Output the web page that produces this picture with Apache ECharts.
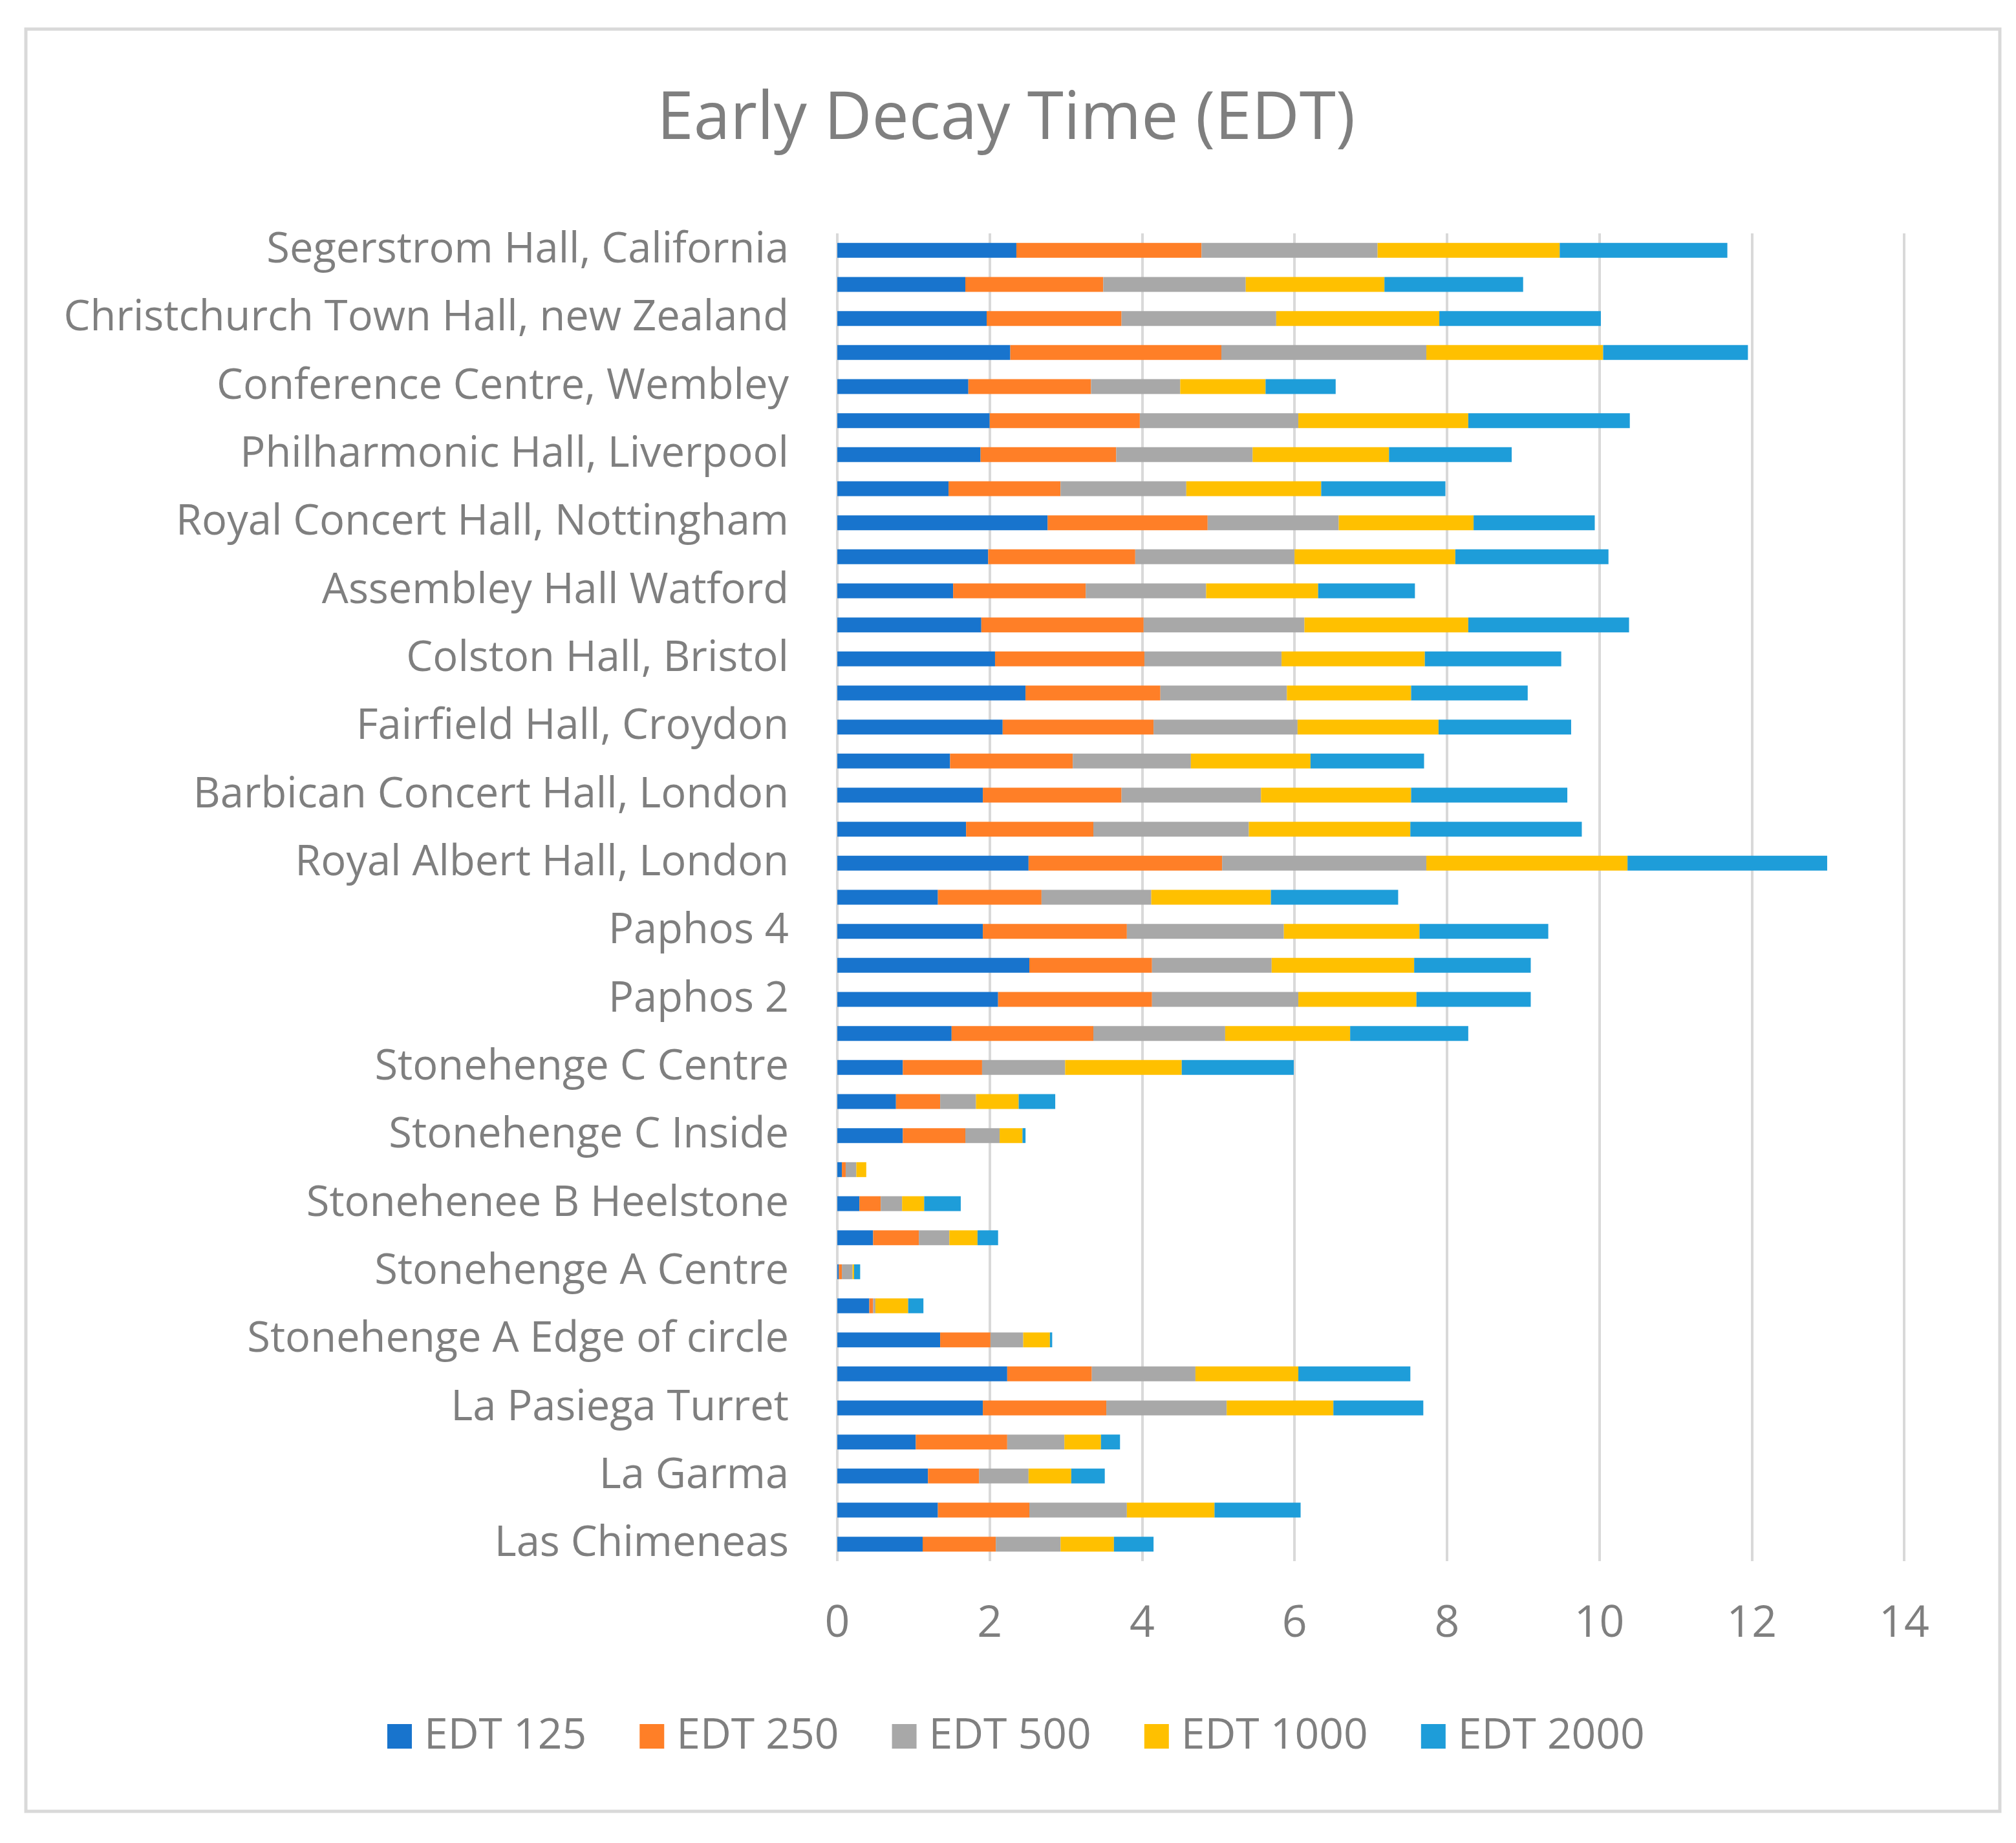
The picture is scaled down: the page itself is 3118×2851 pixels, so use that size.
<!DOCTYPE html>
<html>
<head>
<meta charset="utf-8">
<script src="https://cdn.jsdelivr.net/npm/echarts@6/dist/echarts.min.js"></script>
<style>
html,body{margin:0;padding:0;background:#fff;}
#chart{width:3118px;height:2851px;}
</style>
</head>
<body>
<div id="chart"></div>
<script>
// Categories, top to bottom (unlabelled rows are hidden by the axis label interval)
var categories = [
  "Segerstrom Hall, California", "",
  "Christchurch Town Hall, new Zealand", "",
  "Conference Centre, Wembley", "",
  "Philharmonic Hall, Liverpool", "",
  "Royal Concert Hall, Nottingham", "",
  "Assembley Hall Watford", "",
  "Colston Hall, Bristol", "",
  "Fairfield Hall, Croydon", "",
  "Barbican Concert Hall, London", "",
  "Royal Albert Hall, London", "",
  "Paphos 4", "",
  "Paphos 2", "",
  "Stonehenge C Centre", "",
  "Stonehenge C Inside", "",
  "Stonehenee B Heelstone", "",
  "Stonehenge A Centre", "",
  "Stonehenge A Edge of circle", "",
  "La Pasiega Turret", "",
  "La Garma", "",
  "Las Chimeneas"
];
var seriesNames = ["EDT 125", "EDT 250", "EDT 500", "EDT 1000", "EDT 2000"];
var edt125  = [2.35,1.68,1.96,2.27,1.72,2.00,1.88,1.46,2.76,1.98,1.52,1.89,2.07,2.47,2.17,1.48,1.91,1.69,2.51,1.32,1.91,2.52,2.11,1.50,0.86,0.77,0.86,0.06,0.29,0.47,0.02,0.42,1.35,2.23,1.91,1.03,1.19,1.32,1.12];
var edt250  = [2.43,1.81,1.77,2.77,1.61,1.97,1.78,1.47,2.10,1.93,1.74,2.13,1.96,1.77,1.98,1.61,1.82,1.67,2.54,1.36,1.89,1.61,2.02,1.86,1.04,0.58,0.82,0.05,0.28,0.60,0.04,0.05,0.66,1.11,1.62,1.20,0.67,1.20,0.96];
var edt500  = [2.31,1.87,2.03,2.69,1.17,2.08,1.79,1.65,1.72,2.09,1.58,2.11,1.80,1.66,1.89,1.55,1.83,2.04,2.68,1.44,2.06,1.57,1.92,1.73,1.09,0.47,0.45,0.14,0.28,0.40,0.14,0.03,0.43,1.36,1.58,0.75,0.65,1.28,0.85];
var edt1000 = [2.39,1.82,2.14,2.32,1.12,2.23,1.79,1.77,1.77,2.11,1.47,2.15,1.88,1.63,1.85,1.57,1.97,2.12,2.64,1.57,1.78,1.87,1.55,1.64,1.53,0.56,0.30,0.13,0.29,0.37,0.02,0.43,0.35,1.35,1.40,0.48,0.56,1.15,0.70];
var edt2000 = [2.20,1.82,2.12,1.90,0.92,2.12,1.61,1.63,1.59,2.01,1.27,2.11,1.79,1.53,1.74,1.49,2.05,2.25,2.62,1.67,1.69,1.53,1.50,1.55,1.47,0.48,0.04,0.00,0.48,0.27,0.08,0.20,0.03,1.47,1.18,0.25,0.44,1.13,0.52];
var xTicks = {min: 0, max: 14, interval: 2};
var colors = ["#1874CD", "#FF7F27", "#A8A8A8", "#FFC000", "#1E9DD9"];

var FONT = "Open Sans";
var TEXT = "#7f7f7f";
var values = [edt125, edt250, edt500, edt1000, edt2000];

var chart = echarts.init(document.getElementById("chart"), null, {renderer: "canvas"});
chart.setOption({
  animation: false,
  backgroundColor: "#ffffff",
  color: colors,
  title: {
    text: "Early Decay Time (EDT)",
    left: 1551,
    textAlign: "center",
    top: 130,
    textStyle: {fontFamily: FONT, fontSize: 102, fontWeight: "normal", color: TEXT}
  },
  legend: {
    data: seriesNames,
    left: 594,
    top: 2648,
    icon: "rect",
    itemWidth: 38,
    itemHeight: 38,
    itemGap: 82,
    textStyle: {fontFamily: FONT, fontSize: 66, color: TEXT, padding: [0, 0, 0, 14]}
  },
  grid: {left: 1295, right: 173, top: 361, bottom: 436, containLabel: false},
  xAxis: {
    type: "value",
    min: xTicks.min, max: xTicks.max, interval: xTicks.interval,
    axisLine: {show: false},
    axisTick: {show: false},
    axisLabel: {fontFamily: FONT, fontSize: 68, color: TEXT, margin: 64},
    splitLine: {show: true, lineStyle: {color: "#d9d9d9", width: 4}}
  },
  yAxis: {
    type: "category",
    inverse: true,
    data: categories,
    axisLine: {show: false},
    axisTick: {show: false},
    axisLabel: {interval: 1, fontFamily: FONT, fontSize: 65, color: TEXT, margin: 75}
  },
  graphic: [{
    type: "rect",
    shape: {x: 40, y: 45, width: 3053, height: 2757},
    style: {fill: "none", stroke: "#d9d9d9", lineWidth: 5},
    silent: true
  }],
  series: seriesNames.map(function (n, i) {
    return {
      name: n,
      type: "bar",
      stack: "total",
      barWidth: 23,
      data: values[i],
      itemStyle: {color: colors[i]}
    };
  })
});
</script>
</body>
</html>
